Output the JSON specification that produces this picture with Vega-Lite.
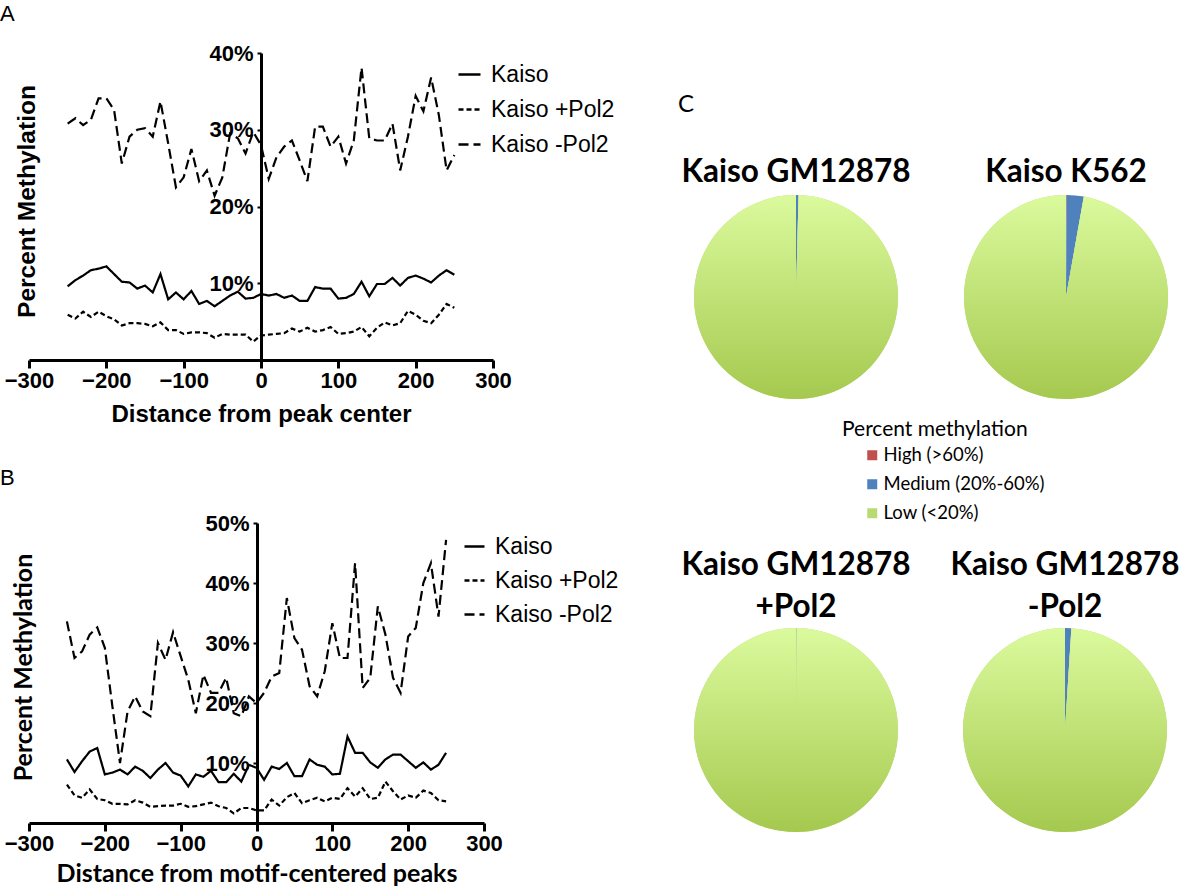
{
"$schema": "https://vega.github.io/schema/vega-lite/v6.json",
"padding": {"top": 3, "left": 0, "right": 0, "bottom": 0},
"background": "white",
"config": {"view": {"stroke": null}, "font": "Liberation Sans"},
"datasets": {
"A": [
{"d":-250,"Kaiso":9.6,"Kaiso +Pol2":5.9,"Kaiso -Pol2":30.8},
{"d":-240,"Kaiso":10.4,"Kaiso +Pol2":5.4,"Kaiso -Pol2":31.5},
{"d":-230,"Kaiso":11.0,"Kaiso +Pol2":6.3,"Kaiso -Pol2":30.6},
{"d":-220,"Kaiso":11.7,"Kaiso +Pol2":5.6,"Kaiso -Pol2":31.3},
{"d":-210,"Kaiso":11.9,"Kaiso +Pol2":6.3,"Kaiso -Pol2":34.1},
{"d":-200,"Kaiso":12.2,"Kaiso +Pol2":5.7,"Kaiso -Pol2":34.1},
{"d":-190,"Kaiso":11.2,"Kaiso +Pol2":5.3,"Kaiso -Pol2":32.6},
{"d":-180,"Kaiso":10.2,"Kaiso +Pol2":4.5,"Kaiso -Pol2":25.6},
{"d":-170,"Kaiso":10.1,"Kaiso +Pol2":4.8,"Kaiso -Pol2":29.1},
{"d":-160,"Kaiso":9.3,"Kaiso +Pol2":4.8,"Kaiso -Pol2":30.0},
{"d":-150,"Kaiso":9.7,"Kaiso +Pol2":4.7,"Kaiso -Pol2":30.2},
{"d":-140,"Kaiso":8.8,"Kaiso +Pol2":4.4,"Kaiso -Pol2":29.1},
{"d":-130,"Kaiso":11.2,"Kaiso +Pol2":4.9,"Kaiso -Pol2":33.7},
{"d":-120,"Kaiso":7.9,"Kaiso +Pol2":3.9,"Kaiso -Pol2":28.2},
{"d":-110,"Kaiso":8.8,"Kaiso +Pol2":3.9,"Kaiso -Pol2":22.5},
{"d":-100,"Kaiso":7.9,"Kaiso +Pol2":3.4,"Kaiso -Pol2":23.8},
{"d":-90,"Kaiso":9.0,"Kaiso +Pol2":3.6,"Kaiso -Pol2":27.5},
{"d":-80,"Kaiso":7.3,"Kaiso +Pol2":3.6,"Kaiso -Pol2":23.3},
{"d":-70,"Kaiso":7.7,"Kaiso +Pol2":3.5,"Kaiso -Pol2":24.7},
{"d":-60,"Kaiso":7.0,"Kaiso +Pol2":2.9,"Kaiso -Pol2":21.4},
{"d":-50,"Kaiso":7.7,"Kaiso +Pol2":3.4,"Kaiso -Pol2":23.8},
{"d":-40,"Kaiso":8.4,"Kaiso +Pol2":3.3,"Kaiso -Pol2":29.5},
{"d":-30,"Kaiso":8.9,"Kaiso +Pol2":3.3,"Kaiso -Pol2":28.9},
{"d":-20,"Kaiso":8.0,"Kaiso +Pol2":3.3,"Kaiso -Pol2":26.9},
{"d":-10,"Kaiso":8.1,"Kaiso +Pol2":2.4,"Kaiso -Pol2":29.7},
{"d":0,"Kaiso":8.6,"Kaiso +Pol2":3.2,"Kaiso -Pol2":28.0},
{"d":10,"Kaiso":8.4,"Kaiso +Pol2":3.3,"Kaiso -Pol2":23.6},
{"d":20,"Kaiso":8.6,"Kaiso +Pol2":3.4,"Kaiso -Pol2":26.4},
{"d":30,"Kaiso":8.1,"Kaiso +Pol2":3.5,"Kaiso -Pol2":27.8},
{"d":40,"Kaiso":8.4,"Kaiso +Pol2":4.1,"Kaiso -Pol2":28.6},
{"d":50,"Kaiso":7.7,"Kaiso +Pol2":3.7,"Kaiso -Pol2":26.0},
{"d":60,"Kaiso":7.7,"Kaiso +Pol2":4.2,"Kaiso -Pol2":23.3},
{"d":70,"Kaiso":9.5,"Kaiso +Pol2":3.7,"Kaiso -Pol2":30.4},
{"d":80,"Kaiso":9.3,"Kaiso +Pol2":3.9,"Kaiso -Pol2":30.4},
{"d":90,"Kaiso":9.3,"Kaiso +Pol2":4.3,"Kaiso -Pol2":27.8},
{"d":100,"Kaiso":8.0,"Kaiso +Pol2":3.4,"Kaiso -Pol2":29.1},
{"d":110,"Kaiso":8.1,"Kaiso +Pol2":3.5,"Kaiso -Pol2":25.6},
{"d":120,"Kaiso":8.6,"Kaiso +Pol2":3.7,"Kaiso -Pol2":28.6},
{"d":130,"Kaiso":10.2,"Kaiso +Pol2":4.3,"Kaiso -Pol2":38.1},
{"d":140,"Kaiso":8.3,"Kaiso +Pol2":3.1,"Kaiso -Pol2":28.9},
{"d":150,"Kaiso":9.9,"Kaiso +Pol2":4.2,"Kaiso -Pol2":28.6},
{"d":160,"Kaiso":9.9,"Kaiso +Pol2":4.9,"Kaiso -Pol2":28.6},
{"d":170,"Kaiso":10.7,"Kaiso +Pol2":4.5,"Kaiso -Pol2":30.8},
{"d":180,"Kaiso":9.7,"Kaiso +Pol2":4.8,"Kaiso -Pol2":24.7},
{"d":190,"Kaiso":10.7,"Kaiso +Pol2":6.4,"Kaiso -Pol2":29.1},
{"d":200,"Kaiso":11.0,"Kaiso +Pol2":5.9,"Kaiso -Pol2":34.4},
{"d":210,"Kaiso":10.6,"Kaiso +Pol2":5.1,"Kaiso -Pol2":32.4},
{"d":220,"Kaiso":10.1,"Kaiso +Pol2":4.8,"Kaiso -Pol2":36.8},
{"d":230,"Kaiso":11.0,"Kaiso +Pol2":5.9,"Kaiso -Pol2":31.9},
{"d":240,"Kaiso":11.7,"Kaiso +Pol2":7.3,"Kaiso -Pol2":24.7},
{"d":250,"Kaiso":11.1,"Kaiso +Pol2":6.8,"Kaiso -Pol2":26.7}
],
"B": [
{"d":-250,"Kaiso":10.6,"Kaiso +Pol2":6.4,"Kaiso -Pol2":33.6},
{"d":-240,"Kaiso":8.5,"Kaiso +Pol2":4.6,"Kaiso -Pol2":27.5},
{"d":-230,"Kaiso":10.3,"Kaiso +Pol2":4.2,"Kaiso -Pol2":28.6},
{"d":-220,"Kaiso":11.9,"Kaiso +Pol2":5.6,"Kaiso -Pol2":31.4},
{"d":-210,"Kaiso":12.5,"Kaiso +Pol2":4.0,"Kaiso -Pol2":32.6},
{"d":-200,"Kaiso":8.1,"Kaiso +Pol2":3.8,"Kaiso -Pol2":29.2},
{"d":-190,"Kaiso":8.4,"Kaiso +Pol2":3.2,"Kaiso -Pol2":19.4},
{"d":-180,"Kaiso":8.9,"Kaiso +Pol2":3.2,"Kaiso -Pol2":10.0},
{"d":-170,"Kaiso":8.1,"Kaiso +Pol2":3.1,"Kaiso -Pol2":18.6},
{"d":-160,"Kaiso":9.4,"Kaiso +Pol2":3.8,"Kaiso -Pol2":21.1},
{"d":-150,"Kaiso":8.7,"Kaiso +Pol2":3.4,"Kaiso -Pol2":18.6},
{"d":-140,"Kaiso":7.5,"Kaiso +Pol2":2.7,"Kaiso -Pol2":17.8},
{"d":-130,"Kaiso":8.9,"Kaiso +Pol2":2.8,"Kaiso -Pol2":30.0},
{"d":-120,"Kaiso":10.0,"Kaiso +Pol2":2.9,"Kaiso -Pol2":27.2},
{"d":-110,"Kaiso":8.4,"Kaiso +Pol2":2.9,"Kaiso -Pol2":31.8},
{"d":-100,"Kaiso":7.9,"Kaiso +Pol2":3.2,"Kaiso -Pol2":27.8},
{"d":-90,"Kaiso":6.1,"Kaiso +Pol2":2.7,"Kaiso -Pol2":23.9},
{"d":-80,"Kaiso":8.1,"Kaiso +Pol2":2.8,"Kaiso -Pol2":18.3},
{"d":-70,"Kaiso":7.7,"Kaiso +Pol2":3.1,"Kaiso -Pol2":24.7},
{"d":-60,"Kaiso":8.7,"Kaiso +Pol2":3.4,"Kaiso -Pol2":21.7},
{"d":-50,"Kaiso":6.8,"Kaiso +Pol2":2.8,"Kaiso -Pol2":21.7},
{"d":-40,"Kaiso":6.8,"Kaiso +Pol2":2.5,"Kaiso -Pol2":24.2},
{"d":-30,"Kaiso":8.2,"Kaiso +Pol2":1.6,"Kaiso -Pol2":18.3},
{"d":-20,"Kaiso":6.9,"Kaiso +Pol2":2.5,"Kaiso -Pol2":17.8},
{"d":-10,"Kaiso":9.7,"Kaiso +Pol2":2.5,"Kaiso -Pol2":21.1},
{"d":0,"Kaiso":9.2,"Kaiso +Pol2":2.1,"Kaiso -Pol2":20.0},
{"d":10,"Kaiso":7.2,"Kaiso +Pol2":2.1,"Kaiso -Pol2":21.7},
{"d":20,"Kaiso":9.4,"Kaiso +Pol2":3.9,"Kaiso -Pol2":24.4},
{"d":30,"Kaiso":9.0,"Kaiso +Pol2":2.9,"Kaiso -Pol2":25.0},
{"d":40,"Kaiso":10.0,"Kaiso +Pol2":4.3,"Kaiso -Pol2":37.5},
{"d":50,"Kaiso":7.8,"Kaiso +Pol2":5.0,"Kaiso -Pol2":30.8},
{"d":60,"Kaiso":7.8,"Kaiso +Pol2":3.3,"Kaiso -Pol2":28.9},
{"d":70,"Kaiso":10.6,"Kaiso +Pol2":3.8,"Kaiso -Pol2":22.8},
{"d":80,"Kaiso":9.7,"Kaiso +Pol2":4.2,"Kaiso -Pol2":21.1},
{"d":90,"Kaiso":9.4,"Kaiso +Pol2":3.6,"Kaiso -Pol2":25.3},
{"d":100,"Kaiso":8.1,"Kaiso +Pol2":4.2,"Kaiso -Pol2":33.3},
{"d":110,"Kaiso":8.2,"Kaiso +Pol2":4.0,"Kaiso -Pol2":27.5},
{"d":120,"Kaiso":14.4,"Kaiso +Pol2":5.8,"Kaiso -Pol2":27.5},
{"d":130,"Kaiso":11.7,"Kaiso +Pol2":4.4,"Kaiso -Pol2":43.3},
{"d":140,"Kaiso":11.7,"Kaiso +Pol2":5.8,"Kaiso -Pol2":22.5},
{"d":150,"Kaiso":10.1,"Kaiso +Pol2":4.0,"Kaiso -Pol2":24.2},
{"d":160,"Kaiso":9.2,"Kaiso +Pol2":4.2,"Kaiso -Pol2":36.1},
{"d":170,"Kaiso":10.6,"Kaiso +Pol2":6.9,"Kaiso -Pol2":31.4},
{"d":180,"Kaiso":11.4,"Kaiso +Pol2":5.3,"Kaiso -Pol2":24.2},
{"d":190,"Kaiso":11.4,"Kaiso +Pol2":3.9,"Kaiso -Pol2":21.7},
{"d":200,"Kaiso":10.3,"Kaiso +Pol2":4.6,"Kaiso -Pol2":31.1},
{"d":210,"Kaiso":9.2,"Kaiso +Pol2":4.2,"Kaiso -Pol2":32.5},
{"d":220,"Kaiso":10.1,"Kaiso +Pol2":5.4,"Kaiso -Pol2":40.0},
{"d":230,"Kaiso":8.9,"Kaiso +Pol2":5.0,"Kaiso -Pol2":43.3},
{"d":240,"Kaiso":9.7,"Kaiso +Pol2":3.8,"Kaiso -Pol2":34.4},
{"d":250,"Kaiso":11.7,"Kaiso +Pol2":3.6,"Kaiso -Pol2":47.2}
],
"pies": [
{"pie":"GM12878","cat":"High (>60%)","ord":1,"v":0},
{"pie":"GM12878","cat":"Medium (20%-60%)","ord":2,"v":0.4},
{"pie":"GM12878","cat":"Low (<20%)","ord":3,"v":99.6},
{"pie":"K562","cat":"High (>60%)","ord":1,"v":0.1},
{"pie":"K562","cat":"Medium (20%-60%)","ord":2,"v":2.7},
{"pie":"K562","cat":"Low (<20%)","ord":3,"v":97.2},
{"pie":"GM12878 +Pol2","cat":"High (>60%)","ord":1,"v":0},
{"pie":"GM12878 +Pol2","cat":"Medium (20%-60%)","ord":2,"v":0.1},
{"pie":"GM12878 +Pol2","cat":"Low (<20%)","ord":3,"v":99.9},
{"pie":"GM12878 -Pol2","cat":"High (>60%)","ord":1,"v":0},
{"pie":"GM12878 -Pol2","cat":"Medium (20%-60%)","ord":2,"v":1.0},
{"pie":"GM12878 -Pol2","cat":"Low (<20%)","ord":3,"v":99.0}
]
},
"resolve": {"scale": {"strokeDash": "independent", "color": "independent", "x": "independent", "y": "independent", "theta": "independent"}, "legend": {"strokeDash": "independent", "color": "independent"}},
"spacing": 59,
"hconcat": [
{
"vconcat": [
{
"width": 464, "height": 307,
"title": {"text": "A", "anchor": "start", "frame": "group", "dx": -29, "fontSize": 22, "fontWeight": "normal", "font": "Liberation Sans", "offset": 16, "color": "black"},
"data": {"name": "A"},
"transform": [{"fold": ["Kaiso", "Kaiso +Pol2", "Kaiso -Pol2"], "as": ["series", "pct"]}],
"mark": {"type": "line", "color": "black", "strokeWidth": 2.2},
"encoding": {
"x": {"field": "d", "type": "quantitative", "scale": {"domain": [-300, 300], "nice": false, "zero": false},
 "axis": {"values": [-300, -200, -100, 0, 100, 200, 300], "title": "Distance from peak center", "grid": false, "domainColor": "black", "domainWidth": 3, "tickColor": "black", "tickWidth": 3, "tickSize": 8, "labelFont": "Liberation Sans", "labelFontSize": 22, "labelFontWeight": "bold", "labelColor": "black", "labelPadding": 2, "labelFlush": false, "labelOverlap": false, "titleFont": "Liberation Sans", "titleFontSize": 24, "titleFontWeight": "bold", "titleColor": "black", "titlePadding": 11, "zindex": 1}},
"y": {"field": "pct", "type": "quantitative", "scale": {"domain": [0, 40], "nice": false},
 "axis": {"values": [10, 20, 30, 40], "labelExpr": "datum.value + '%'", "offset": -232, "grid": false, "domainColor": "black", "domainWidth": 3, "tickColor": "black", "tickWidth": 2, "tickSize": 4, "labelFont": "Liberation Sans", "labelFontSize": 22, "labelFontWeight": "bold", "labelColor": "black", "labelPadding": 4, "labelFlush": false, "labelOverlap": false, "title": "Percent Methylation", "titleFont": "Liberation Sans", "titleFontSize": 24.5, "titleFontWeight": "bold", "titleColor": "black", "titleX": -234, "titleY": 148, "titleAngle": -90, "titleBaseline": "middle", "titleAlign": "center", "zindex": 1}},
"strokeDash": {"field": "series", "type": "nominal", "scale": {"domain": ["Kaiso", "Kaiso +Pol2", "Kaiso -Pol2"], "range": [[1, 0], [5, 3], [10, 5]]},
 "legend": {"orient": "none", "legendX": 428, "legendY": 9, "title": null, "padding": 0, "labelFont": "Liberation Sans", "labelFontSize": 23, "labelColor": "black", "labelOffset": 9, "symbolType": "stroke", "symbolSize": 484, "symbolStrokeWidth": 2.5, "symbolStrokeColor": "black", "rowPadding": 10, "labelLimit": 300}}
}
},
{
"width": 455, "height": 300,
"title": {"text": "B", "anchor": "start", "frame": "group", "dx": -29, "fontSize": 22, "fontWeight": "normal", "font": "Liberation Sans", "offset": 22, "color": "black"},
"data": {"name": "B"},
"transform": [{"fold": ["Kaiso", "Kaiso +Pol2", "Kaiso -Pol2"], "as": ["series", "pct"]}],
"mark": {"type": "line", "color": "black", "strokeWidth": 2.2},
"encoding": {
"x": {"field": "d", "type": "quantitative", "scale": {"domain": [-300, 300], "nice": false, "zero": false},
 "axis": {"values": [-300, -200, -100, 0, 100, 200, 300], "title": "Distance from motif-centered peaks", "grid": false, "domainColor": "black", "domainWidth": 3, "tickColor": "black", "tickWidth": 3, "tickSize": 8, "labelFont": "Liberation Sans", "labelFontSize": 22, "labelFontWeight": "bold", "labelColor": "black", "labelPadding": 2, "labelFlush": false, "labelOverlap": false, "titleFont": "Lato", "titleFontSize": 25, "titleFontWeight": "bold", "titleColor": "black", "titlePadding": 7, "zindex": 1}},
"y": {"field": "pct", "type": "quantitative", "scale": {"domain": [0, 50], "nice": false},
 "axis": {"values": [10, 20, 30, 40, 50], "labelExpr": "datum.value + '%'", "offset": -228, "grid": false, "domainColor": "black", "domainWidth": 3, "tickColor": "black", "tickWidth": 2, "tickSize": 4, "labelFont": "Liberation Sans", "labelFontSize": 22, "labelFontWeight": "bold", "labelColor": "black", "labelPadding": 4, "labelFlush": false, "labelOverlap": false, "title": "Percent Methylation", "titleFont": "Lato", "titleFontSize": 25, "titleFontWeight": "bold", "titleColor": "black", "titleX": -234, "titleY": 144, "titleAngle": -90, "titleBaseline": "middle", "titleAlign": "center", "zindex": 1}},
"strokeDash": {"field": "series", "type": "nominal", "scale": {"domain": ["Kaiso", "Kaiso +Pol2", "Kaiso -Pol2"], "range": [[1, 0], [5, 3], [10, 5]]},
 "legend": {"orient": "none", "legendX": 434, "legendY": 12, "title": null, "padding": 0, "labelFont": "Liberation Sans", "labelFontSize": 23, "labelColor": "black", "labelOffset": 9, "symbolType": "stroke", "symbolSize": 400, "symbolStrokeWidth": 2.5, "symbolStrokeColor": "black", "rowPadding": 10, "labelLimit": 300}}
}
}
],
"spacing": 163,
"bounds": "flush",
"resolve": {"scale": {"strokeDash": "independent", "x": "independent", "y": "independent"}, "legend": {"strokeDash": "independent"}}
},
{
"spacing": 26,
"resolve": {"scale": {"color": "independent", "theta": "independent"}, "legend": {"color": "independent"}},
"vconcat": [
{
"width": 20, "height": 77,
"title": {"text": "C", "orient": "bottom", "anchor": "start", "frame": "group", "dx": -16, "font": "Lato", "fontSize": 24, "fontWeight": "normal", "offset": -37, "color": "black"},
"data": {"values": []},
"mark": "point"
},
{
"hconcat": [
{
"width": 204, "height": 204,
"title": {"text": "Kaiso GM12878", "font": "Lato", "fontSize": 31.5, "fontWeight": "bold", "color": "black", "offset": 7, "anchor": "middle"},
"data": {"name": "pies"},
"transform": [{"filter": "datum.pie === 'GM12878'"}],
"encoding": {"theta": {"field": "v", "type": "quantitative", "stack": true}, "order": {"field": "ord", "type": "quantitative"}},
"layer": [
{"mark": {"type": "arc", "strokeWidth": 0}, "encoding": {"color": {"field": "cat", "type": "nominal", "scale": {"domain": ["High (>60%)", "Medium (20%-60%)", "Low (<20%)"], "range": ["#c0504d", "#4f81bd", "#b8da72"]},
 "legend": {"orient": "none", "legendX": 148, "legendY": 224, "title": "Percent methylation", "padding": 0, "titleFont": "Lato", "titleFontSize": 21, "titleFontWeight": "normal", "titleColor": "black", "titlePadding": 6, "titleLimit": 400, "labelLimit": 400, "labelFont": "Lato", "labelFontSize": 18.5, "labelColor": "black", "symbolType": "square", "symbolSize": 100, "symbolStrokeWidth": 0, "symbolOffset": 21, "labelOffset": 2, "rowPadding": 10}}}},
{"mark": {"type": "arc", "strokeWidth": 0, "fill": {"x1": 0, "y1": 0, "x2": 0, "y2": 1, "gradient": "linear", "stops": [{"offset": 0, "color": "#dbfa9d"}, {"offset": 1, "color": "#a5c94f"}]}}, "encoding": {"detail": {"field": "cat"}, "opacity": {"condition": {"test": "datum.cat === 'Low (<20%)'", "value": 1}, "value": 0}}}
]
},
{
"width": 204, "height": 204,
"title": {"text": "Kaiso K562", "font": "Lato", "fontSize": 31.5, "fontWeight": "bold", "color": "black", "offset": 7, "anchor": "middle"},
"data": {"name": "pies"},
"transform": [{"filter": "datum.pie === 'K562'"}],
"encoding": {"theta": {"field": "v", "type": "quantitative", "stack": true}, "order": {"field": "ord", "type": "quantitative"}},
"layer": [
{"mark": {"type": "arc", "strokeWidth": 0}, "encoding": {"color": {"field": "cat", "type": "nominal", "scale": {"domain": ["High (>60%)", "Medium (20%-60%)", "Low (<20%)"], "range": ["#c0504d", "#4f81bd", "#b8da72"]}, "legend": null}}},
{"mark": {"type": "arc", "strokeWidth": 0, "fill": {"x1": 0, "y1": 0, "x2": 0, "y2": 1, "gradient": "linear", "stops": [{"offset": 0, "color": "#dbfa9d"}, {"offset": 1, "color": "#a5c94f"}]}}, "encoding": {"detail": {"field": "cat"}, "opacity": {"condition": {"test": "datum.cat === 'Low (<20%)'", "value": 1}, "value": 0}}}
]
}
],
"spacing": 66,
"bounds": "flush",
"resolve": {"scale": {"color": "independent", "theta": "independent"}, "legend": {"color": "independent"}}
},
{
"hconcat": [
{
"width": 204, "height": 204,
"title": {"text": ["Kaiso GM12878", "+Pol2"], "font": "Lato", "fontSize": 31.5, "fontWeight": "bold", "color": "black", "offset": 5, "anchor": "middle", "lineHeight": 42},
"data": {"name": "pies"},
"transform": [{"filter": "datum.pie === 'GM12878 +Pol2'"}],
"encoding": {"theta": {"field": "v", "type": "quantitative", "stack": true}, "order": {"field": "ord", "type": "quantitative"}},
"layer": [
{"mark": {"type": "arc", "strokeWidth": 0}, "encoding": {"color": {"field": "cat", "type": "nominal", "scale": {"domain": ["High (>60%)", "Medium (20%-60%)", "Low (<20%)"], "range": ["#c0504d", "#4f81bd", "#b8da72"]}, "legend": null}}},
{"mark": {"type": "arc", "strokeWidth": 0, "fill": {"x1": 0, "y1": 0, "x2": 0, "y2": 1, "gradient": "linear", "stops": [{"offset": 0, "color": "#dbfa9d"}, {"offset": 1, "color": "#a5c94f"}]}}, "encoding": {"detail": {"field": "cat"}, "opacity": {"condition": {"test": "datum.cat === 'Low (<20%)'", "value": 1}, "value": 0}}}
]
},
{
"width": 204, "height": 204,
"title": {"text": ["Kaiso GM12878", "-Pol2"], "font": "Lato", "fontSize": 31.5, "fontWeight": "bold", "color": "black", "offset": 5, "anchor": "middle", "lineHeight": 42},
"data": {"name": "pies"},
"transform": [{"filter": "datum.pie === 'GM12878 -Pol2'"}],
"encoding": {"theta": {"field": "v", "type": "quantitative", "stack": true}, "order": {"field": "ord", "type": "quantitative"}},
"layer": [
{"mark": {"type": "arc", "strokeWidth": 0}, "encoding": {"color": {"field": "cat", "type": "nominal", "scale": {"domain": ["High (>60%)", "Medium (20%-60%)", "Low (<20%)"], "range": ["#c0504d", "#4f81bd", "#b8da72"]}, "legend": null}}},
{"mark": {"type": "arc", "strokeWidth": 0, "fill": {"x1": 0, "y1": 0, "x2": 0, "y2": 1, "gradient": "linear", "stops": [{"offset": 0, "color": "#dbfa9d"}, {"offset": 1, "color": "#a5c94f"}]}}, "encoding": {"detail": {"field": "cat"}, "opacity": {"condition": {"test": "datum.cat === 'Low (<20%)'", "value": 1}, "value": 0}}}
]
}
],
"spacing": 65,
"bounds": "flush",
"resolve": {"scale": {"color": "independent", "theta": "independent"}, "legend": {"color": "independent"}}
}
]
}
]
}
